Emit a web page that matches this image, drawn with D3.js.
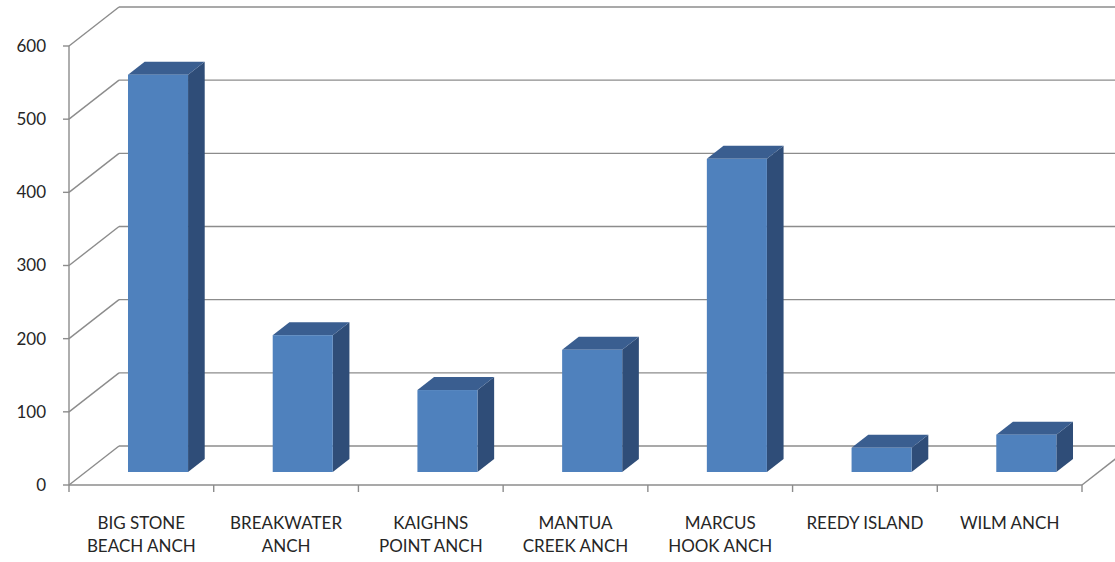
<!doctype html>
<html>
<head>
<meta charset="utf-8">
<title>Anchorage bars</title>
<script src="https://cdn.jsdelivr.net/npm/d3@7"></script>
<style>
  body { margin: 0; background: #fff; }
  text { font-family: Lato, "Open Sans", sans-serif; fill: #262626; }
</style>
</head>
<body>
<svg width="1115" height="562"></svg>
<script>
// data
var categories = ["BIG STONE BEACH ANCH", "BREAKWATER ANCH", "KAIGHNS POINT ANCH",
                  "MANTUA CREEK ANCH", "MARCUS HOOK ANCH", "REEDY ISLAND", "WILM ANCH"];
var labelLines = [["BIG STONE", "BEACH ANCH"], ["BREAKWATER", "ANCH"], ["KAIGHNS", "POINT ANCH"],
                  ["MANTUA", "CREEK ANCH"], ["MARCUS", "HOOK ANCH"], ["REEDY ISLAND"], ["WILM ANCH"]];
var values = [543, 187, 112, 167, 428, 33, 51];
var yTicks = [0, 100, 200, 300, 400, 500, 600];

var svg = d3.select("svg");
var grid = "#8c8c8c";

// front plane scales
var x = d3.scaleBand().domain(categories).range([69, 1082])
    .paddingInner(0.585).paddingOuter(0.2925);
var y = d3.scaleLinear().domain([0, 600]).range([485, 46]);

// depth of the box (3d offset)
var dx = 50, dy = -39;
var f0 = 1 / 3, f1 = 2 / 3;   // bars sit in the middle third

var g = svg.append("g").attr("stroke", grid).attr("stroke-width", 1.4).attr("fill", "none");

// back wall gridlines
g.selectAll("line.back").data(yTicks).enter().append("line")
    .attr("x1", 69 + dx).attr("x2", 1082 + dx)
    .attr("y1", function (d) { return y(d) + dy; })
    .attr("y2", function (d) { return y(d) + dy; });

// side wall diagonals
g.selectAll("line.side").data(yTicks).enter().append("line")
    .attr("x1", 69).attr("x2", 69 + dx)
    .attr("y1", function (d) { return y(d); })
    .attr("y2", function (d) { return y(d) + dy; });

// floor right edge + front edge
g.append("line").attr("x1", 1082).attr("y1", y(0)).attr("x2", 1082 + dx).attr("y2", y(0) + dy);
g.append("line").attr("x1", 69).attr("y1", y(0)).attr("x2", 1082).attr("y2", y(0));
// y axis line
g.append("line").attr("x1", 69).attr("y1", y(600)).attr("x2", 69).attr("y2", y(0));

// y ticks
g.selectAll("line.yt").data(yTicks).enter().append("line")
    .attr("x1", 63).attr("x2", 69)
    .attr("y1", function (d) { return y(d); })
    .attr("y2", function (d) { return y(d); });

// x ticks at category boundaries
var bounds = d3.range(categories.length + 1).map(function (i) { return 69 + i * x.step(); });
g.selectAll("line.xt").data(bounds).enter().append("line")
    .attr("x1", function (d) { return d; }).attr("x2", function (d) { return d; })
    .attr("y1", y(0)).attr("y2", y(0) + 7);

svg.selectAll("text.ytl").data(yTicks).enter().append("text")
    .attr("x", 46).attr("y", function (d) { return y(d); })
    .attr("dy", "0.35em").attr("text-anchor", "end")
    .style("font-size", "17px")
    .text(function (d) { return d; });

// bars
var bars = svg.append("g").selectAll("g").data(values).enter().append("g");

function pt(px, py) { return px + "," + py; }

bars.each(function (v, i) {
    var b = d3.select(this);
    var x0 = x(categories[i]) + dx * f0, x1 = x0 + x.bandwidth();
    var yb = y(0) + dy * f0, yt = y(v) + dy * f0;
    var ox = dx * (f1 - f0), oy = dy * (f1 - f0);
    // right side
    b.append("polygon").attr("fill", "#2f4d78")
        .attr("points", [pt(x1, yb), pt(x1, yt), pt(x1 + ox, yt + oy), pt(x1 + ox, yb + oy)].join(" "));
    // top
    b.append("polygon").attr("fill", "#3a5e90")
        .attr("points", [pt(x0, yt), pt(x1, yt), pt(x1 + ox, yt + oy), pt(x0 + ox, yt + oy)].join(" "));
    // front
    b.append("rect").attr("fill", "#4f81bd")
        .attr("x", x0).attr("y", yt).attr("width", x1 - x0).attr("height", yb - yt);
});

// category labels
var lab = svg.selectAll("text.cat").data(categories).enter().append("text")
    .attr("text-anchor", "middle")
    .style("font-size", "17px")
    .attr("x", function (d) { return x(d) + x.bandwidth() / 2; })
    .attr("y", 529);
lab.selectAll("tspan").data(function (d, i) { return labelLines[i]; }).enter().append("tspan")
    .attr("x", function () { return d3.select(this.parentNode).attr("x"); })
    .attr("dy", function (d, i) { return i === 0 ? 0 : 23; })
    .text(function (d) { return d; });
</script>
</body>
</html>
